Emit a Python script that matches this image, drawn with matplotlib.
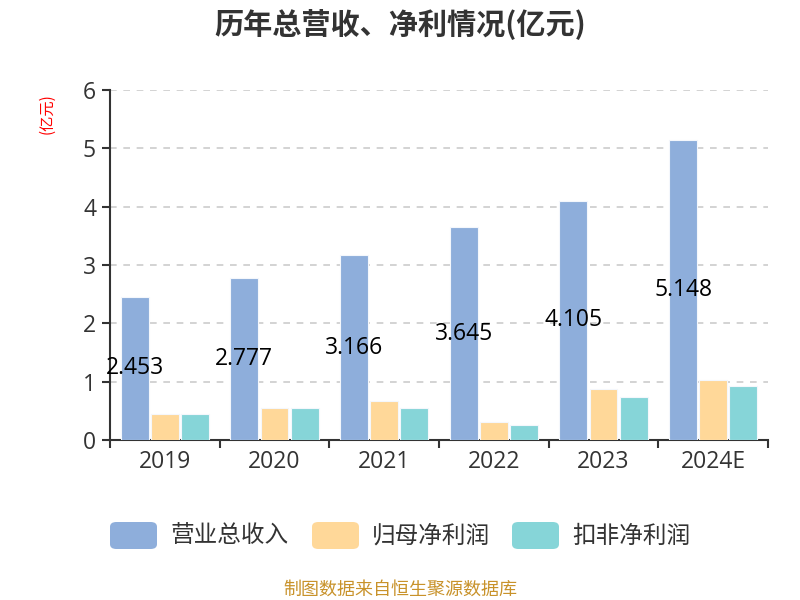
import matplotlib
matplotlib.use('Agg')
import matplotlib.pyplot as plt
import numpy as np
from matplotlib.patches import FancyBboxPatch

plt.rcParams['font.family'] = ['Noto Sans CJK SC', 'DejaVu Sans']

# data (亿元)
years = ['2019', '2020', '2021', '2022', '2023', '2024E']
revenue = [2.453, 2.777, 3.166, 3.645, 4.105, 5.148]
net_profit = [0.44, 0.55, 0.67, 0.31, 0.87, 1.02]
net_profit_ex = [0.44, 0.54, 0.55, 0.25, 0.73, 0.93]

series_names = ['营业总收入', '归母净利润', '扣非净利润']
colors = ['#8EAEDB', '#FFD899', '#86D5D8']
num_font = ['Open Sans', 'DejaVu Sans']

fig = plt.figure(figsize=(8, 6), dpi=100)
ax = fig.add_axes([0.1375, 0.2667, 0.8225, 0.5833])

x = np.arange(len(years))
w = 0.255
step = 0.275
for i, vals in enumerate([revenue, net_profit, net_profit_ex]):
    ax.bar(x + (i - 1) * step, vals, width=w, color=colors[i],
           edgecolor='#F4F7FC', linewidth=0.8, zorder=3)

# value labels at middle of revenue bars
for xi, v in zip(x, revenue):
    ax.text(xi - step, v / 2, f'{v:.3f}', ha='center', va='center',
            fontsize=16.5, color='black', zorder=5, family=num_font)

ax.set_xlim(-0.5, len(years) - 0.5)
ax.set_ylim(0, 6)
ax.set_yticks(range(0, 7))
ax.yaxis.grid(True, linestyle=(0, (4, 4)), color='#CCCCCC', linewidth=1.2, zorder=0)
ax.set_axisbelow(True)

ax.set_xticks(x)
ax.set_xticklabels(years)
ax.set_xticks(np.arange(-0.5, len(years)), minor=True)
ax.tick_params(axis='x', which='major', length=0, labelsize=16.5,
               labelcolor='#333333', pad=7)
ax.tick_params(axis='x', which='minor', length=6, width=1.5, color='#333333')
ax.tick_params(axis='y', length=6, width=1.5, color='#333333',
               labelsize=16.5, labelcolor='#333333', pad=4)
for lab in ax.get_xticklabels() + ax.get_yticklabels():
    lab.set_family(num_font)

for s in ['top', 'right']:
    ax.spines[s].set_visible(False)
for s in ['left', 'bottom']:
    ax.spines[s].set_color('#333333')
    ax.spines[s].set_linewidth(1.5)

fig.text(0.5, 0.96, '历年总营收、净利情况(亿元)', ha='center', va='center',
         fontsize=21, fontweight='bold', color='#333333')
fig.text(0.059, 0.81, '(亿元)', ha='center', va='center', rotation=90,
         fontsize=11, color='red')

# legend
leg_x = [110, 312, 512]
for lx, name, c in zip(leg_x, series_names, colors):
    patch = FancyBboxPatch((lx / 800, (600 - 549) / 600), 47 / 800, 27 / 600,
                           boxstyle='round,pad=0,rounding_size=0.008',
                           transform=fig.transFigure, facecolor=c,
                           edgecolor='none')
    fig.patches.append(patch)
    fig.text((lx + 60) / 800, (600 - 536) / 600, name, ha='left', va='center',
             fontsize=17, color='#333333')

fig.text(0.5, (600 - 590) / 600, '制图数据来自恒生聚源数据库', ha='center',
         va='center', fontsize=13, color='#C8922A')

fig.savefig('out.png', dpi=100)
